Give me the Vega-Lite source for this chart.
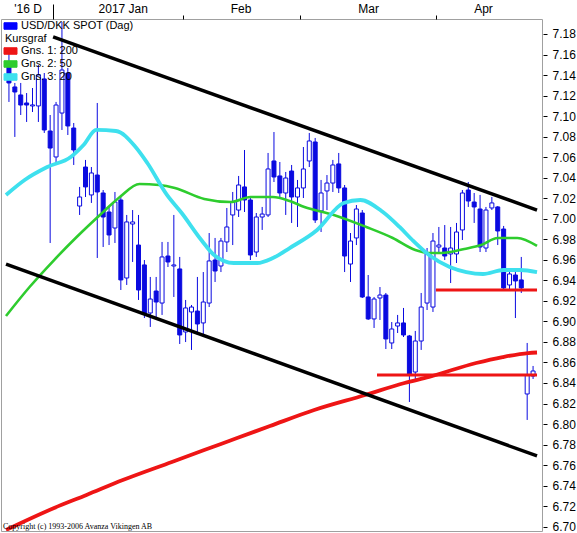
{
 "$schema": "https://vega.github.io/schema/vega-lite/v6.json",
 "width": 541,
 "height": 512,
 "autosize": {"type": "none"},
 "padding": {"left": 1, "top": 19, "right": 35, "bottom": 2},
 "background": "white",
 "title": {"text": "Copyright (c) 1993-2006 Avanza Vikingen AB", "orient": "bottom", "anchor": "start", "frame": "group", "offset": -3.5, "baseline": "alphabetic", "font": "Liberation Serif", "fontSize": 8, "fontWeight": "normal", "color": "black", "dx": 2},
 "datasets": {
  "candles": [
   {"i":0,"o":7.1527,"h":7.1625,"l":7.1138,"c":7.1323},
   {"i":1,"o":7.1284,"h":7.1323,"l":7.0797,"c":7.1235},
   {"i":2,"o":7.1206,"h":7.1323,"l":7.1011,"c":7.1108},
   {"i":3,"o":7.1128,"h":7.1225,"l":7.0943,"c":7.1108},
   {"i":4,"o":7.1099,"h":7.1274,"l":7.1040,"c":7.1109},
   {"i":5,"o":7.1099,"h":7.1498,"l":7.0943,"c":7.1401},
   {"i":6,"o":7.1362,"h":7.1420,"l":7.0836,"c":7.0865},
   {"i":7,"o":7.0855,"h":7.1011,"l":6.9764,"c":7.0689},
   {"i":8,"o":7.0602,"h":7.1138,"l":7.0524,"c":7.1108},
   {"i":9,"o":7.1030,"h":7.1917,"l":7.0865,"c":7.1449},
   {"i":10,"o":7.1420,"h":7.1469,"l":7.0816,"c":7.0904},
   {"i":11,"o":7.0884,"h":7.0933,"l":7.0524,"c":7.0670},
   {"i":12,"o":7.0124,"h":7.0310,"l":7.0037,"c":7.0212},
   {"i":13,"o":7.0504,"h":7.0573,"l":7.0212,"c":7.0310},
   {"i":14,"o":7.0232,"h":7.0504,"l":7.0154,"c":7.0446},
   {"i":15,"o":7.0426,"h":7.1128,"l":6.9618,"c":7.0261},
   {"i":16,"o":7.0251,"h":7.0280,"l":6.9725,"c":7.0017},
   {"i":17,"o":7.0066,"h":7.0115,"l":6.9744,"c":6.9842},
   {"i":18,"o":6.9910,"h":7.0261,"l":6.9764,"c":7.0163},
   {"i":19,"o":7.0183,"h":7.0232,"l":6.9306,"c":6.9404},
   {"i":20,"o":6.9423,"h":7.0037,"l":6.9355,"c":6.9969},
   {"i":21,"o":6.9949,"h":7.0085,"l":6.9579,"c":6.9969},
   {"i":22,"o":6.9744,"h":7.0037,"l":6.9209,"c":6.9306},
   {"i":23,"o":6.9550,"h":6.9598,"l":6.9033,"c":6.9082},
   {"i":24,"o":6.9082,"h":6.9433,"l":6.8946,"c":6.9218},
   {"i":25,"o":6.9296,"h":6.9433,"l":6.9043,"c":6.9189},
   {"i":26,"o":6.9179,"h":6.9774,"l":6.9063,"c":6.9628},
   {"i":27,"o":6.9637,"h":6.9774,"l":6.9530,"c":6.9579},
   {"i":28,"o":6.9540,"h":7.0037,"l":6.9238,"c":6.9550},
   {"i":29,"o":6.9511,"h":6.9628,"l":6.8780,"c":6.8868},
   {"i":30,"o":6.8897,"h":6.9209,"l":6.8799,"c":6.9131},
   {"i":31,"o":6.9092,"h":6.9160,"l":6.8722,"c":6.9140},
   {"i":32,"o":6.9101,"h":6.9433,"l":6.8868,"c":6.8975},
   {"i":33,"o":6.8985,"h":6.9481,"l":6.8848,"c":6.9189},
   {"i":34,"o":6.9179,"h":6.9861,"l":6.9140,"c":6.9589},
   {"i":35,"o":6.9598,"h":6.9813,"l":6.9384,"c":6.9491},
   {"i":36,"o":6.9540,"h":6.9813,"l":6.9481,"c":6.9783},
   {"i":37,"o":6.9774,"h":7.0105,"l":6.9676,"c":6.9920},
   {"i":38,"o":7.0037,"h":7.0261,"l":6.9744,"c":7.0163},
   {"i":39,"o":7.0085,"h":7.0417,"l":7.0017,"c":7.0329},
   {"i":40,"o":7.0310,"h":7.0670,"l":7.0066,"c":7.0183},
   {"i":41,"o":7.0183,"h":7.0202,"l":6.9598,"c":6.9647},
   {"i":42,"o":6.9676,"h":7.0056,"l":6.9628,"c":7.0017},
   {"i":43,"o":7.0017,"h":7.0115,"l":6.9891,"c":7.0046},
   {"i":44,"o":7.0037,"h":7.0641,"l":7.0017,"c":7.0485},
   {"i":45,"o":7.0563,"h":7.0845,"l":7.0358,"c":7.0407},
   {"i":46,"o":7.0417,"h":7.0553,"l":7.0202,"c":7.0251},
   {"i":47,"o":7.0251,"h":7.0456,"l":7.0037,"c":7.0397},
   {"i":48,"o":7.0465,"h":7.0524,"l":6.9959,"c":7.0212},
   {"i":49,"o":7.0212,"h":7.0378,"l":6.9920,"c":7.0300},
   {"i":50,"o":7.0300,"h":7.0699,"l":7.0202,"c":7.0485},
   {"i":51,"o":7.0563,"h":7.0836,"l":7.0504,"c":7.0758},
   {"i":52,"o":7.0748,"h":7.0787,"l":6.9959,"c":6.9988},
   {"i":53,"o":7.0076,"h":7.0378,"l":6.9871,"c":7.0251},
   {"i":54,"o":7.0271,"h":7.0426,"l":7.0085,"c":7.0348},
   {"i":55,"o":7.0348,"h":7.0573,"l":7.0261,"c":7.0524},
   {"i":56,"o":7.0534,"h":7.0641,"l":7.0251,"c":7.0300},
   {"i":57,"o":7.0300,"h":7.0329,"l":6.9481,"c":6.9637},
   {"i":58,"o":6.9559,"h":6.9861,"l":6.9384,"c":6.9783},
   {"i":59,"o":6.9813,"h":7.0134,"l":6.9744,"c":7.0095},
   {"i":60,"o":7.0056,"h":7.0085,"l":6.9228,"c":6.9238},
   {"i":61,"o":6.9238,"h":6.9452,"l":6.9014,"c":6.9024},
   {"i":62,"o":6.9024,"h":6.9238,"l":6.8936,"c":6.9218},
   {"i":63,"o":6.9228,"h":6.9335,"l":6.9014,"c":6.9257},
   {"i":64,"o":6.9257,"h":6.9277,"l":6.8731,"c":6.8829},
   {"i":65,"o":6.8790,"h":6.8994,"l":6.8731,"c":6.8926},
   {"i":66,"o":6.8955,"h":6.9063,"l":6.8887,"c":6.8985},
   {"i":67,"o":6.8985,"h":6.9131,"l":6.8848,"c":6.8868},
   {"i":68,"o":6.8858,"h":6.8868,"l":6.8215,"c":6.8478},
   {"i":69,"o":6.8507,"h":6.8907,"l":6.8439,"c":6.8809},
   {"i":70,"o":6.8809,"h":6.9277,"l":6.8722,"c":6.9140},
   {"i":71,"o":6.9179,"h":6.9715,"l":6.9111,"c":6.9657},
   {"i":72,"o":6.9140,"h":6.9861,"l":6.9092,"c":6.9783},
   {"i":73,"o":6.9725,"h":6.9920,"l":6.9667,"c":6.9744},
   {"i":74,"o":6.9715,"h":6.9939,"l":6.9598,"c":6.9637},
   {"i":75,"o":6.9657,"h":6.9920,"l":6.9374,"c":6.9715},
   {"i":76,"o":6.9657,"h":6.9959,"l":6.9569,"c":6.9871},
   {"i":77,"o":6.9891,"h":7.0280,"l":6.9793,"c":7.0251},
   {"i":78,"o":7.0280,"h":7.0358,"l":7.0115,"c":7.0173},
   {"i":79,"o":7.0163,"h":7.0251,"l":6.9959,"c":7.0115},
   {"i":80,"o":7.0095,"h":7.0232,"l":6.9676,"c":6.9725},
   {"i":81,"o":6.9715,"h":7.0115,"l":6.9676,"c":7.0085},
   {"i":82,"o":7.0105,"h":7.0212,"l":7.0085,"c":7.0154},
   {"i":83,"o":7.0115,"h":7.0124,"l":6.9744,"c":6.9881},
   {"i":84,"o":6.9900,"h":6.9930,"l":6.9306,"c":6.9326},
   {"i":85,"o":6.9355,"h":6.9501,"l":6.9306,"c":6.9462},
   {"i":86,"o":6.9452,"h":6.9481,"l":6.9033,"c":6.9394},
   {"i":87,"o":6.9404,"h":6.9628,"l":6.9277,"c":6.9326},
   {"i":88,"o":6.8293,"h":6.8790,"l":6.8040,"c":6.8478},
   {"i":89,"o":6.8468,"h":6.8566,"l":6.8439,"c":6.8517}
  ],
  "ma": [
   {"s":"Gns. 1: 200","i":-0.5,"v":6.6968},
   {"s":"Gns. 1: 200","i":7.67,"v":6.7182},
   {"s":"Gns. 1: 200","i":13.17,"v":6.7309},
   {"s":"Gns. 1: 200","i":19.33,"v":6.7455},
   {"s":"Gns. 1: 200","i":27.67,"v":6.7631},
   {"s":"Gns. 1: 200","i":36,"v":6.7806},
   {"s":"Gns. 1: 200","i":44.33,"v":6.7981},
   {"s":"Gns. 1: 200","i":51.83,"v":6.8137},
   {"s":"Gns. 1: 200","i":60.5,"v":6.8283},
   {"s":"Gns. 1: 200","i":67.17,"v":6.8400},
   {"s":"Gns. 1: 200","i":71.33,"v":6.8459},
   {"s":"Gns. 1: 200","i":79.33,"v":6.8595},
   {"s":"Gns. 1: 200","i":83.83,"v":6.8653},
   {"s":"Gns. 1: 200","i":88.17,"v":6.8692},
   {"s":"Gns. 1: 200","i":89.67,"v":6.8697},
   {"s":"Gns. 2: 50","i":-0.5,"v":6.9053},
   {"s":"Gns. 2: 50","i":3.5,"v":6.9335},
   {"s":"Gns. 2: 50","i":7.67,"v":6.9598},
   {"s":"Gns. 2: 50","i":11.5,"v":6.9822},
   {"s":"Gns. 2: 50","i":16,"v":7.0066},
   {"s":"Gns. 2: 50","i":18.83,"v":7.0212},
   {"s":"Gns. 2: 50","i":22.17,"v":7.0339},
   {"s":"Gns. 2: 50","i":25.5,"v":7.0329},
   {"s":"Gns. 2: 50","i":28.17,"v":7.0300},
   {"s":"Gns. 2: 50","i":33.17,"v":7.0193},
   {"s":"Gns. 2: 50","i":37.67,"v":7.0163},
   {"s":"Gns. 2: 50","i":41,"v":7.0212},
   {"s":"Gns. 2: 50","i":44.83,"v":7.0212},
   {"s":"Gns. 2: 50","i":47.67,"v":7.0173},
   {"s":"Gns. 2: 50","i":50.17,"v":7.0115},
   {"s":"Gns. 2: 50","i":55.17,"v":7.0037},
   {"s":"Gns. 2: 50","i":60.67,"v":6.9920},
   {"s":"Gns. 2: 50","i":65.17,"v":6.9813},
   {"s":"Gns. 2: 50","i":69,"v":6.9696},
   {"s":"Gns. 2: 50","i":71.33,"v":6.9667},
   {"s":"Gns. 2: 50","i":73.5,"v":6.9667},
   {"s":"Gns. 2: 50","i":77.33,"v":6.9706},
   {"s":"Gns. 2: 50","i":80.17,"v":6.9744},
   {"s":"Gns. 2: 50","i":83,"v":6.9813},
   {"s":"Gns. 2: 50","i":86.33,"v":6.9813},
   {"s":"Gns. 2: 50","i":89.67,"v":6.9735},
   {"s":"Gns. 3: 20","i":-0.5,"v":7.0232},
   {"s":"Gns. 3: 20","i":2.67,"v":7.0378},
   {"s":"Gns. 3: 20","i":6.5,"v":7.0504},
   {"s":"Gns. 3: 20","i":10.5,"v":7.0602},
   {"s":"Gns. 3: 20","i":12.67,"v":7.0719},
   {"s":"Gns. 3: 20","i":14.83,"v":7.0865},
   {"s":"Gns. 3: 20","i":18.17,"v":7.0855},
   {"s":"Gns. 3: 20","i":21.5,"v":7.0699},
   {"s":"Gns. 3: 20","i":23.5,"v":7.0543},
   {"s":"Gns. 3: 20","i":26.83,"v":7.0232},
   {"s":"Gns. 3: 20","i":29.33,"v":7.0056},
   {"s":"Gns. 3: 20","i":32.67,"v":6.9793},
   {"s":"Gns. 3: 20","i":34.83,"v":6.9647},
   {"s":"Gns. 3: 20","i":38.17,"v":6.9569},
   {"s":"Gns. 3: 20","i":42.17,"v":6.9569},
   {"s":"Gns. 3: 20","i":44.83,"v":6.9618},
   {"s":"Gns. 3: 20","i":47.67,"v":6.9715},
   {"s":"Gns. 3: 20","i":52.33,"v":6.9891},
   {"s":"Gns. 3: 20","i":56.83,"v":7.0154},
   {"s":"Gns. 3: 20","i":59.67,"v":7.0183},
   {"s":"Gns. 3: 20","i":63.5,"v":7.0066},
   {"s":"Gns. 3: 20","i":66.33,"v":6.9920},
   {"s":"Gns. 3: 20","i":68.5,"v":6.9793},
   {"s":"Gns. 3: 20","i":71.33,"v":6.9647},
   {"s":"Gns. 3: 20","i":74.83,"v":6.9530},
   {"s":"Gns. 3: 20","i":77.67,"v":6.9481},
   {"s":"Gns. 3: 20","i":80.5,"v":6.9462},
   {"s":"Gns. 3: 20","i":84,"v":6.9501},
   {"s":"Gns. 3: 20","i":86.83,"v":6.9501},
   {"s":"Gns. 3: 20","i":89.67,"v":6.9481}
  ],
  "chan": [
   {"g":"upper","i":7.5,"v":7.1771},
   {"g":"upper","i":89.67,"v":7.0085},
   {"g":"lower","i":-0.5,"v":6.9559},
   {"g":"lower","i":89.67,"v":6.7689}
  ],
  "hz": [
   {"g":"a","i":72.5,"v":6.9306},
   {"g":"a","i":89.67,"v":6.9306},
   {"g":"b","i":62.5,"v":6.8478},
   {"g":"b","i":89.67,"v":6.8478}
  ]
 },
 "resolve": {"axis": {"x": "independent", "y": "independent"}},
 "layer": [
  {
   "data": {"name": "candles"},
   "mark": {"type": "rule", "color": "#0a0ae0", "strokeWidth": 1},
   "encoding": {
    "x": {"field": "i", "type": "quantitative",
      "scale": {"domain": [-0.5, 89.6667], "nice": false, "zero": false},
      "axis": {"orient": "top", "values": [3.17, 19.33, 39.33, 61, 80.5],
        "labelExpr": "datum.value < 5 ? \"'16 D\" : datum.value < 25 ? '2017 Jan' : datum.value < 45 ? 'Feb' : datum.value < 70 ? 'Mar' : 'Apr'",
        "ticks": false, "tickSize": 0, "domain": false, "grid": false,
        "labelPadding": 7, "labelBaseline": "alphabetic", "labelFontSize": 12,
        "labelColor": "black", "labelFont": "Liberation Sans", "labelOverlap": false, "labelFlush": false, "title": null}},
    "y": {"field": "l", "type": "quantitative",
      "scale": {"domain": [6.69581, 7.19461], "nice": false, "zero": false},
      "axis": {"orient": "right", "values": [6.70,6.72,6.74,6.76,6.78,6.80,6.82,6.84,6.86,6.88,6.90,6.92,6.94,6.96,6.98,7.00,7.02,7.04,7.06,7.08,7.10,7.12,7.14,7.16,7.18],
        "format": ".2f", "domain": false, "grid": false, "tickSize": 4, "tickColor": "black", "offset": 1,
        "labelPadding": 5, "labelFontSize": 12, "labelColor": "black", "labelFont": "Liberation Sans",
        "labelOverlap": false, "labelFlush": false, "title": null}},
    "y2": {"field": "h"}
   }
  },
  {
   "data": {"name": "candles"},
   "mark": {"type": "bar", "width": 4, "stroke": "#0a0ae0", "strokeWidth": 1},
   "encoding": {
    "x": {"field": "i", "type": "quantitative",
      "axis": {"orient": "top", "values": [7.5, 29.5, 49.5, 72.5], "labels": false, "domain": false, "grid": false,
        "ticks": true, "tickColor": "black", "tickSize": {"condition": {"test": "datum.value < 10", "value": 15}, "value": 4}, "title": null}},
    "y": {"field": "o", "type": "quantitative", "axis": null},
    "y2": {"field": "c"},
    "fill": {"condition": {"test": "datum.c < datum.o", "value": "#0a0ae0"}, "value": "white"}
   }
  },
  {
   "data": {"name": "ma"},
   "mark": {"type": "line", "interpolate": "monotone", "clip": true},
   "encoding": {
    "x": {"field": "i", "type": "quantitative", "axis": null},
    "y": {"field": "v", "type": "quantitative", "axis": null},
    "color": {"field": "s", "type": "nominal",
      "scale": {"domain": ["USD/DKK SPOT (Dag)", "Kursgraf", "Gns. 1: 200", "Gns. 2: 50", "Gns. 3: 20"],
                "range": ["#0000ff", "#ffffff", "#ee1515", "#2ecc2e", "#3ee0ee"]},
      "legend": {"orient": "none", "legendX": 2.5, "legendY": 0, "direction": "vertical", "title": null,
        "padding": 0, "rowPadding": 0, "symbolType": "M-1,-0.5H1V0.5H-1Z", "symbolSize": 169,
        "symbolStrokeColor": "black", "symbolStrokeWidth": 1, "labelFont": "Liberation Sans",
        "labelFontSize": 11, "labelColor": "black", "labelOffset": 3.5, "labelLimit": 300,
        "encode": {"symbols": {"update": {"fill": {"scale": "color", "field": "value"}, "stroke": {"value": "black"}, "strokeWidth": {"value": 1}, "opacity": {"signal": "datum.value === 'Kursgraf' ? 0 : 1"}}},
                   "labels": {"update": {"dx": {"signal": "datum.value === 'Kursgraf' ? -16 : 0"}}}}}},
    "strokeWidth": {"condition": {"test": "datum.s === 'Gns. 2: 50'", "value": 2.6}, "value": 3.8}
   }
  },
  {
   "data": {"name": "hz"},
   "mark": {"type": "line", "color": "#ee1515", "strokeWidth": 3, "clip": true},
   "encoding": {
    "x": {"field": "i", "type": "quantitative", "axis": null},
    "y": {"field": "v", "type": "quantitative", "axis": null},
    "detail": {"field": "g"}
   }
  },
  {
   "data": {"name": "chan"},
   "mark": {"type": "line", "color": "black", "strokeWidth": 3.5, "clip": true},
   "encoding": {
    "x": {"field": "i", "type": "quantitative", "axis": null},
    "y": {"field": "v", "type": "quantitative", "axis": null},
    "detail": {"field": "g"}
   }
  }
 ],
 "config": {
  "view": {"stroke": "#a0a0a0", "strokeWidth": 1},
  "font": "Liberation Sans"
 }
}
